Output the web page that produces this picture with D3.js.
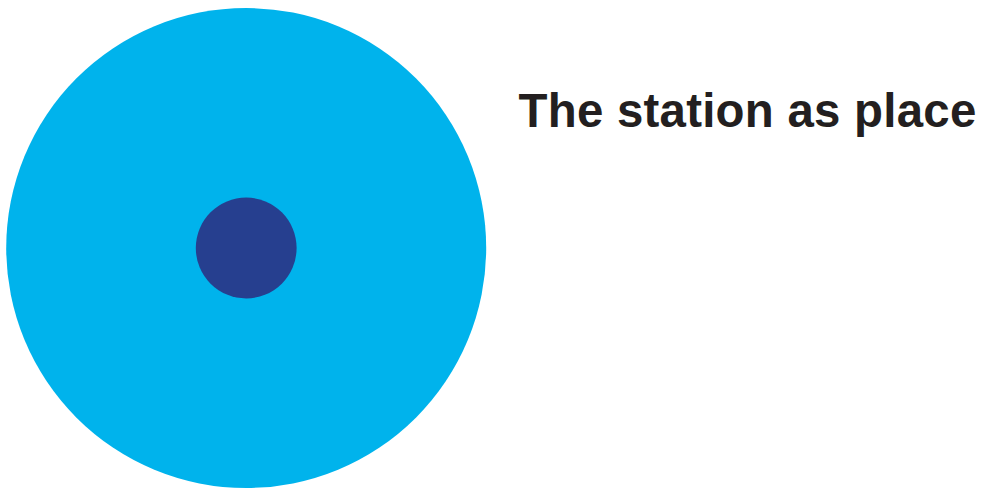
<!DOCTYPE html>
<html>
<head>
<meta charset="utf-8">
<script src="https://cdn.jsdelivr.net/npm/d3@7"></script>
<style>
html,body{margin:0;padding:0;background:#fff;}
svg{display:block;}
</style>
</head>
<body>
<svg id="chart" width="982" height="488"></svg>
<script>
const rings = ["outer", "core"];
const ringValues = [1, 0.21];
const titles = ["The station as place"];

const colors = d3.scaleOrdinal().domain(rings).range(["#00b3ec", "#263f8f"]);
const rScale = d3.scaleLinear().domain([0, 1]).range([0, 240]);

const svg = d3.select("#chart");
const cx = 246.2, cy = 248;

svg.selectAll("circle.ring")
  .data(rings.map((k, i) => ({ key: k, v: ringValues[i] })))
  .join("circle")
  .attr("class", "ring")
  .attr("cx", cx)
  .attr("cy", cy)
  .attr("r", d => rScale(d.v))
  .attr("fill", d => colors(d.key));

svg.selectAll("text.title")
  .data(titles)
  .join("text")
  .attr("class", "title")
  .attr("x", 518.5)
  .attr("y", 127.3)
  .attr("font-family", "Liberation Sans, Arial, Helvetica, sans-serif")
  .attr("font-weight", "bold")
  .attr("font-size", 47.4)
  .attr("letter-spacing", "0.25px")
  .attr("fill", "#231f20")
  .text(d => d);
</script>
</body>
</html>
